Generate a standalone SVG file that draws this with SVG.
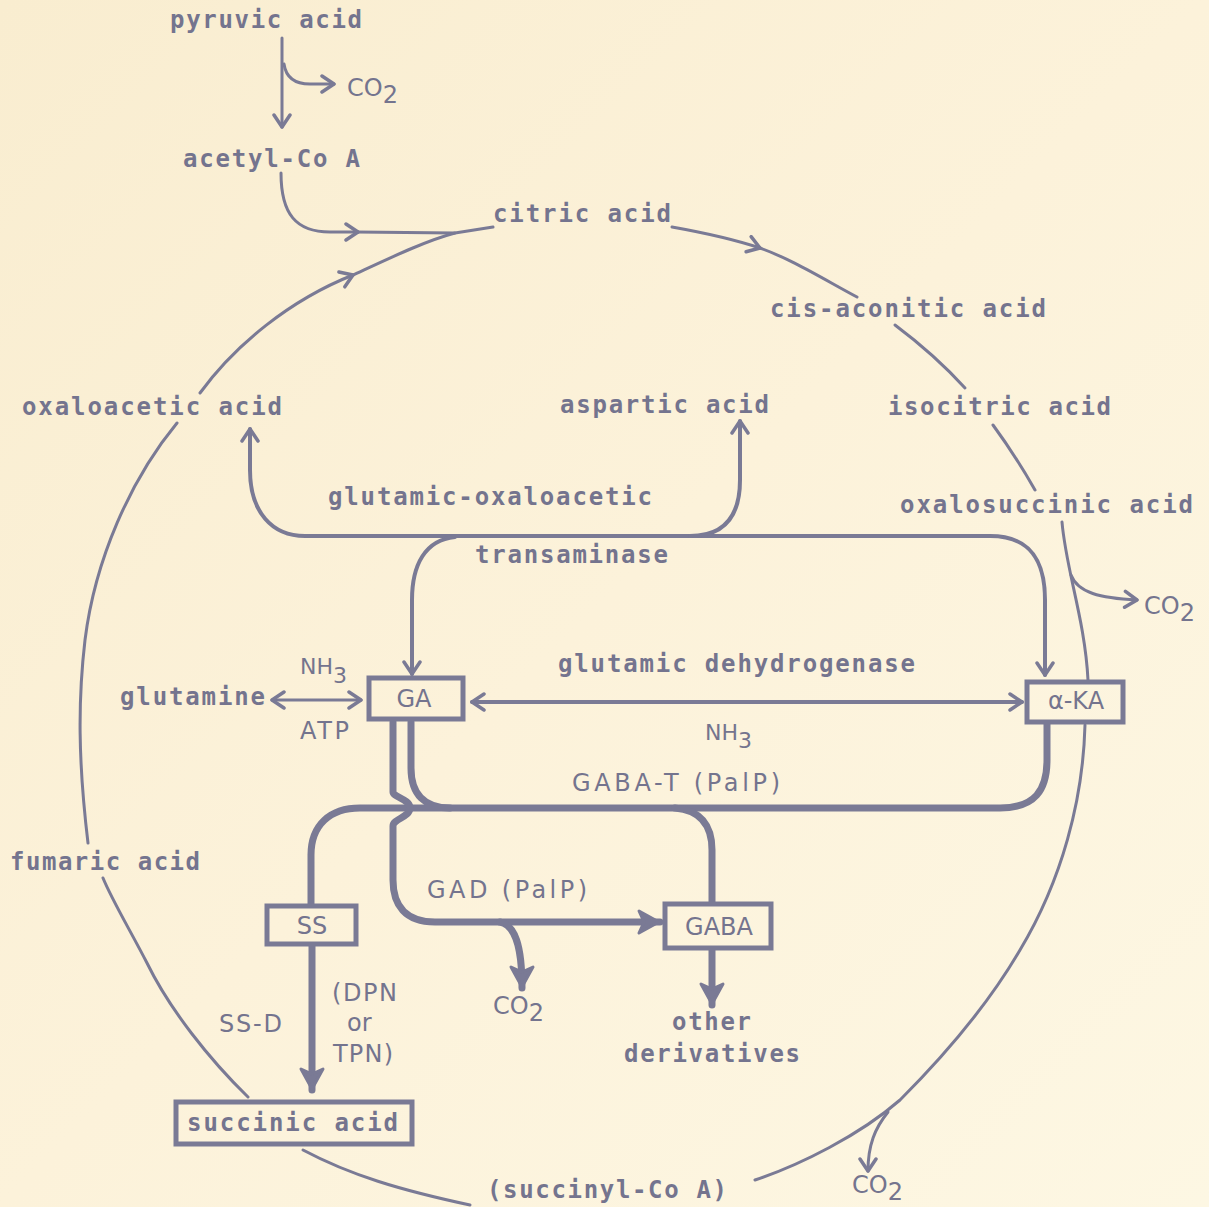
<svg xmlns="http://www.w3.org/2000/svg" width="1209" height="1207" viewBox="0 0 1209 1207">
<defs>
<linearGradient id="bg" x1="0" y1="0" x2="1" y2="1">
<stop offset="0" stop-color="#f9edd0"/>
<stop offset="0.5" stop-color="#fcf2da"/>
<stop offset="1" stop-color="#fdf7e3"/>
</linearGradient>
<marker id="chev" viewBox="0 0 20 20" refX="16" refY="10" markerWidth="20" markerHeight="20" markerUnits="userSpaceOnUse" orient="auto-start-reverse">
<path d="M4,2 L16,10 L4,18" fill="none" stroke="#7a7a95" stroke-width="3.5" stroke-linecap="round" stroke-linejoin="round"/>
</marker>
<marker id="fat" viewBox="0 0 28 28" refX="25" refY="14" markerWidth="28" markerHeight="28" markerUnits="userSpaceOnUse" orient="auto">
<path d="M4,3 L24,14 L4,25 L9,14 Z" fill="#7a7a95" stroke="#7a7a95" stroke-width="3" stroke-linejoin="round"/>
</marker>
<style>
.thin{fill:none;stroke:#7a7a95;stroke-width:3;stroke-linecap:round;stroke-linejoin:round}
.mid{fill:none;stroke:#7a7a95;stroke-width:4;stroke-linecap:round;stroke-linejoin:round}
.thick{fill:none;stroke:#7a7a95;stroke-width:7;stroke-linecap:round;stroke-linejoin:round}
.box{fill:none;stroke:#7a7a95;stroke-width:5}
.t{font-family:"DejaVu Sans Mono","Liberation Mono",monospace;font-size:24px;font-weight:bold;fill:#74748e}
.u{font-family:"DejaVu Sans","Liberation Sans",sans-serif;font-size:24px;fill:#74748e}
.c{font-family:"DejaVu Sans","Liberation Sans",sans-serif;font-size:24px;fill:#74748e}
</style>
</defs>
<rect width="1209" height="1207" fill="url(#bg)"/>

<g id="connectors">
<path class="thin" d="M282,38 V127" marker-end="url(#chev)"/>
<path class="thin" d="M284,64 C286,78 295,84 310,84 H334" marker-end="url(#chev)"/>
<path class="thin" d="M281,173 C281,214 296,232 330,232 L358,232" marker-end="url(#chev)"/>
<path class="thin" d="M356,232 L455,233"/>
<path class="thin" d="M200,393 C235,345 290,300 353,275" marker-end="url(#chev)"/>
<path class="thin" d="M351,276 C390,258 425,241 455,233 L493,227"/>
<path class="thin" d="M672,227 C700,232 730,238 760,248" marker-end="url(#chev)"/>
<path class="thin" d="M757,247 C790,258 825,280 857,297"/>
<path class="thin" d="M895,325 Q935,355 965,388"/>
<path class="thin" d="M993,425 Q1015,455 1035,490"/>
<path class="thin" d="M1062,522 C1066,570 1085,620 1088,680"/>
<path class="thin" d="M1071,575 C1078,593 1100,598 1137,600" marker-end="url(#chev)"/>
<path class="thin" d="M1085,725 C1083,800 1062,880 1020,950 C985,1010 940,1060 900,1100 C860,1135 800,1165 755,1180"/>
<path class="thin" d="M888,1112 C875,1128 868,1145 868,1171" marker-end="url(#chev)"/>
<path class="thin" d="M303,1150 C350,1175 400,1190 470,1205"/>
<path class="thin" d="M248,1097 C210,1060 170,1010 147,963 C130,930 112,900 103,878"/>
<path class="thin" d="M88,843 C78,760 78,700 85,640 C95,560 130,480 177,423"/>
<path class="mid" d="M250,429 V470 C250,512 272,536 305,536 H990 C1030,536 1045,560 1045,600 V675" marker-start="url(#chev)" marker-end="url(#chev)"/>
<path class="mid" d="M690,536 C725,536 740,515 740,480 V421" marker-end="url(#chev)"/>
<path class="mid" d="M455,537 C425,540 412,565 412,600 V674" marker-end="url(#chev)"/>
<path class="mid" d="M472,702 H1022" marker-start="url(#chev)" marker-end="url(#chev)"/>
<path class="thin" d="M272,700 H361" marker-start="url(#chev)" marker-end="url(#chev)"/>
<path class="thick" d="M411,722 V768 C411,795 425,808 450,808"/>
<path class="thick" d="M311,904 V855 C311,825 330,808 360,808 H1000 C1035,808 1047,790 1047,760 V724"/>
<path class="thick" d="M675,808 C700,810 712,825 712,850 V902"/>
<path class="thick" d="M393,722 V792 C393,797 410,799 410,808 C410,817 393,819 393,826 V880 C393,905 405,922 435,922 H660" marker-end="url(#fat)"/>
<path class="thick" d="M500,922 C515,925 522,945 522,988" marker-end="url(#fat)"/>
<path class="thick" d="M312,946 V1090" marker-end="url(#fat)"/>
<path class="thick" d="M712,950 V1005" marker-end="url(#fat)"/>
</g>

<g id="pyruvic"><text class="t" x="170" y="28" textLength="192">pyruvic acid</text></g>
<g id="co2-top"><text class="c" x="347" y="96">CO<tspan dy="7">2</tspan></text></g>
<g id="acetyl"><text class="t" x="183" y="167" textLength="177">acetyl-Co A</text></g>
<g id="citric"><text class="t" x="493" y="222" textLength="178">citric acid</text></g>
<g id="cisaconitic"><text class="t" x="770" y="317" textLength="276">cis-aconitic acid</text></g>
<g id="oxaloacetic"><text class="t" x="22" y="415" textLength="260">oxaloacetic acid</text></g>
<g id="aspartic"><text class="t" x="560" y="413" textLength="209">aspartic acid</text></g>
<g id="isocitric"><text class="t" x="888" y="415" textLength="223">isocitric acid</text></g>
<g id="got"><text class="t" x="328" y="505" textLength="324">glutamic-oxaloacetic</text><text class="t" x="475" y="563" textLength="193">transaminase</text></g>
<g id="oxalosuccinic"><text class="t" x="900" y="513" textLength="293">oxalosuccinic acid</text></g>
<g id="co2-right"><text class="c" x="1144" y="614">CO<tspan dy="7">2</tspan></text></g>
<g id="glutamine"><text class="t" x="120" y="705" textLength="145">glutamine</text>
<text class="u" x="300" y="674" style="font-size:22px">NH<tspan dy="9">3</tspan></text>
<text class="u" x="300" y="739" textLength="49">ATP</text></g>
<g id="GA"><rect class="box" x="369" y="678" width="94" height="41"/><text class="u" x="414" y="707" text-anchor="middle">GA</text></g>
<g id="gdh"><text class="t" x="558" y="672" textLength="357">glutamic dehydrogenase</text>
<text class="u" x="705" y="740" style="font-size:22px">NH<tspan dy="8">3</tspan></text></g>
<g id="aKA"><rect class="box" x="1027" y="682" width="96" height="40"/><text class="u" x="1076" y="709" text-anchor="middle">α-KA</text></g>
<g id="gabat"><text class="u" x="572" y="791" textLength="208">GABA-T (PalP)</text></g>
<g id="fumaric"><text class="t" x="10" y="870" textLength="190">fumaric acid</text></g>
<g id="SS"><rect class="box" x="267" y="906" width="89" height="38"/><text class="u" x="312" y="934" text-anchor="middle">SS</text></g>
<g id="gad"><text class="u" x="427" y="898" textLength="160">GAD (PalP)</text></g>
<g id="GABA"><rect class="box" x="665" y="904" width="106" height="44"/><text class="u" x="719" y="935" text-anchor="middle">GABA</text></g>
<g id="ssd"><text class="u" x="219" y="1032" textLength="63">SS-D</text>
<text class="u" x="332" y="1001" textLength="65">(DPN</text>
<text class="u" x="347" y="1031">or</text>
<text class="u" x="333" y="1062" textLength="60">TPN)</text></g>
<g id="co2-mid"><text class="c" x="493" y="1014">CO<tspan dy="7">2</tspan></text></g>
<g id="derivatives"><text class="t" x="672" y="1030" textLength="79">other</text><text class="t" x="624" y="1062" textLength="176">derivatives</text></g>
<g id="succinic"><rect class="box" x="176" y="1102" width="236" height="42"/><text class="t" x="187" y="1131" textLength="211">succinic acid</text></g>
<g id="succinylcoa"><text class="t" x="487" y="1198" textLength="240">(succinyl-Co A)</text></g>
<g id="co2-bottom"><text class="c" x="852" y="1193">CO<tspan dy="7">2</tspan></text></g>
</svg>
